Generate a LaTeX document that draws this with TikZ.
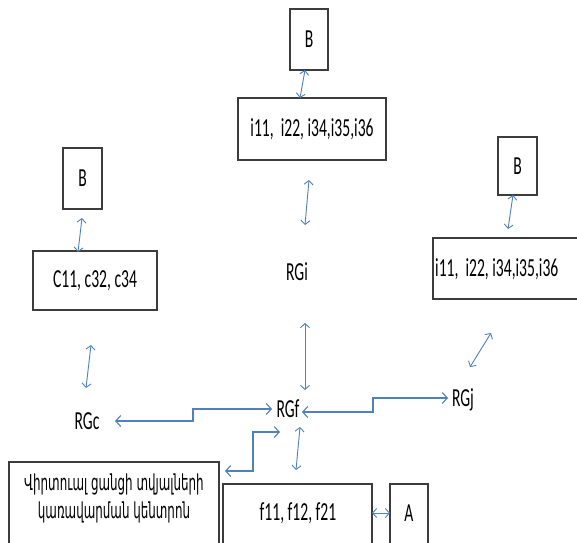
\documentclass[tikz,border=0pt]{standalone}
\usepackage{fontspec}
\setmainfont{Carlito}
\newfontfamily\armfont[Script=Armenian]{DejaVu Sans}
\usetikzlibrary{arrows.meta}
\definecolor{arrblue}{RGB}{79,129,189}
\definecolor{boxgray}{RGB}{60,60,60}
\newcommand{\sq}[1]{\scalebox{0.6}[1]{#1}}
\newcommand{\armline}[1]{\scalebox{0.54}[1]{\armfont\fontsize{22}{30}\selectfont #1}}
\begin{document}
\begin{tikzpicture}[x=1pt,y=-1pt,
  box/.style={draw=boxgray,line width=1.1pt,fill=white,inner sep=0pt,anchor=center},
  lbl/.style={inner sep=0pt,anchor=center,font=\fontsize{26}{30}\selectfont},
  conn/.style={draw=arrblue,line width=0.9pt,{Straight Barb[length=4pt,width=9pt]}-{Straight Barb[length=4pt,width=9pt]}},
  sconn/.style={draw=arrblue,line width=1.1pt,{Straight Barb[length=5pt,width=11pt]}-{Straight Barb[length=5pt,width=11pt]}}]
\useasboundingbox (0,0) rectangle (577,542);
\clip (0,0) rectangle (577,542);
\fill[white] (0,0) rectangle (577,542);
% boxes
\node[box,minimum width=38pt,minimum height=61pt] (B1) at (309,39.5) {};
\node[lbl] at (B1) {\sq{B}};
\node[box,minimum width=148pt,minimum height=62pt] (I1) at (312,129) {};
\node[lbl] at (I1) {\sq{i11,\ \ i22, i34,i35,i36}};
\node[box,minimum width=39pt,minimum height=61pt] (B2) at (82.5,178.5) {};
\node[lbl] at (B2) {\sq{B}};
\node[box,minimum width=124pt,minimum height=59pt] (C) at (95,280.5) {};
\node[lbl] at (C) {\sq{C11, c32, c34}};
\node[box,minimum width=39pt,minimum height=58pt] (B3) at (517.5,166) {};
\node[lbl] at (B3) {\sq{B}};
\node[box,minimum width=148pt,minimum height=61pt] (I2) at (507,268.5) {};
\node[lbl,anchor=west] at (435,269) {\sq{i11,\ \ i22, i34,i35,i36}};
\node[box,minimum width=210pt,minimum height=100pt] (Arm) at (114,512) {};
\node[inner sep=0pt,anchor=center] at (114,484) {\armline{Վիրտուալ ցանցի տվյալների}};
\node[inner sep=0pt,anchor=center] at (114,512) {\armline{կառավարման կենտրոն}};
\node[box,minimum width=149pt,minimum height=80pt] (F) at (297.5,524) {};
\node[lbl] at (298,513) {\sq{f11, f12, f21}};
\node[box,minimum width=38pt,minimum height=80pt] (A) at (409,524) {};
\node[lbl] at (409,513) {\sq{A}};
% labels
\node[lbl] (RGi) at (297,272) {\sq{RGi}};
\node[lbl] (RGf) at (288,409) {\sq{RGf}};
\node[lbl] (RGj) at (463,400) {\sq{RGj}};
\node[lbl] (RGc) at (87,421) {\sq{RGc}};
% connector end points
\coordinate (b1s) at (305,70); \coordinate (i1n) at (300,98);
\coordinate (i1s) at (309,180); \coordinate (rgin) at (305,225);
\coordinate (rgis) at (305,323); \coordinate (rgfn) at (305,390);
\coordinate (b2s) at (82,218); \coordinate (cn) at (78,252);
\coordinate (cs) at (91,345); \coordinate (rgcn) at (86,388);
\coordinate (b3s) at (513,195); \coordinate (i2n) at (508,229);
\coordinate (i2s) at (491,333); \coordinate (rgjn) at (470,367);
\coordinate (rgcE) at (115,421); \coordinate (rgfW) at (272,409);
\coordinate (rgfE) at (302,412); \coordinate (rgjW) at (448,398);
\coordinate (rgfSW) at (280,432); \coordinate (armE) at (225,471);
\coordinate (rgfS) at (300,427); \coordinate (fn) at (296,470);
\coordinate (fE) at (372,513); \coordinate (aW) at (390,513);
% connectors
\draw[conn] (b1s) -- (i1n);
\draw[conn] (i1s) -- (rgin);
\draw[conn] (rgis) -- (rgfn);
\draw[conn] (b2s) -- (cn);
\draw[conn] (cs) -- (rgcn);
\draw[conn] (b3s) -- (i2n);
\draw[conn] (i2s) -- (rgjn);
\draw[conn] (rgfS) -- (fn);
\draw[conn] (fE) -- (aW);
\draw[sconn] (rgcE) -- (193,421) -- (193,409) -- (rgfW);
\draw[sconn] (rgfE) -- (373,412) -- (373,398) -- (rgjW);
\draw[sconn] (rgfSW) -- (253,432) -- (253,471) -- (armE);
\end{tikzpicture}
\end{document}
